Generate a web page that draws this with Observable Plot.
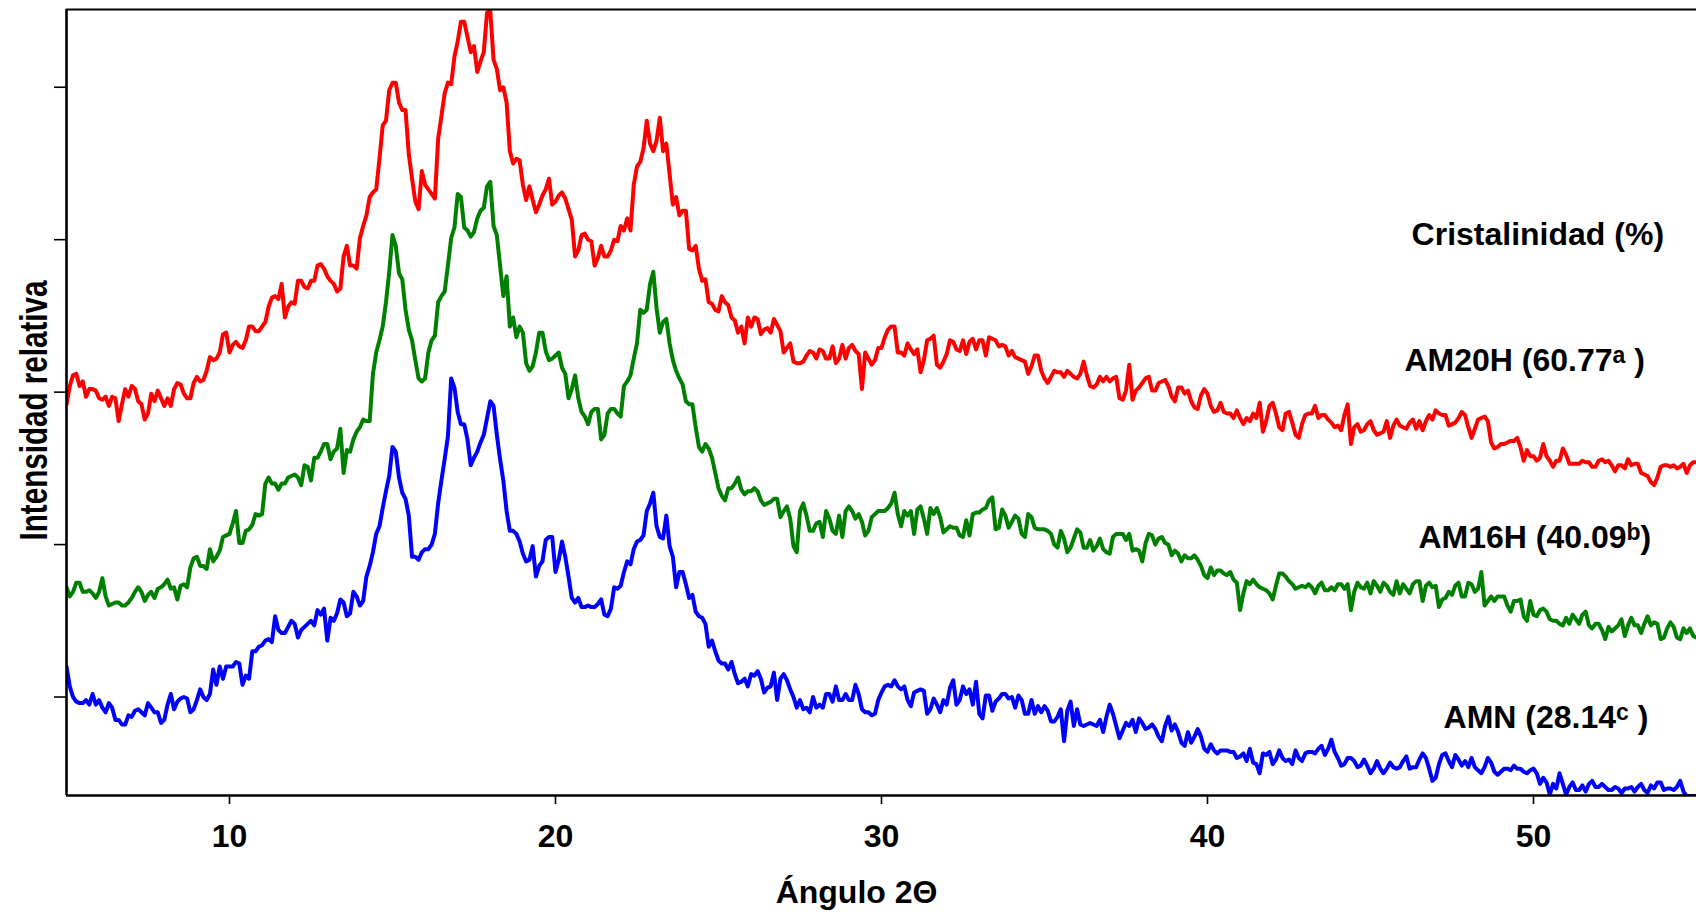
<!DOCTYPE html>
<html>
<head>
<meta charset="utf-8">
<script src="https://cdn.jsdelivr.net/npm/d3@7"></script>
<script src="https://cdn.jsdelivr.net/npm/@observablehq/plot@0.6"></script>
<style>
  html, body { margin: 0; padding: 0; background: #fff; }
  #chart svg { display: block; }
</style>
</head>
<body>
<div id="chart"></div>
<script>
// X-ray diffraction patterns, 2θ from 5° to 55° sampled every 0.1°.
// Intensities are in relative units (curves are offset vertically).
const angleStart = 5;
const angleStep = 0.1;

const am20h = [
  292,304,311,312,304,307,297,302,302,301,296,295,297,291,297,296,281,292,302,297,
  304,302,294,292,282,286,299,294,301,296,291,296,291,302,306,305,299,296,296,306,
  310,307,308,314,323,321,322,326,338,339,326,331,333,330,329,334,343,343,340,340,
  343,346,356,362,363,361,371,349,356,359,358,373,373,369,368,373,373,383,384,381,
  376,373,371,366,368,389,396,383,383,381,401,409,416,428,431,433,453,475,478,498,
  503,503,490,485,485,456,440,425,420,445,436,433,430,427,466,481,496,503,502,520,
  530,543,543,533,523,527,510,517,523,549,550,518,512,498,500,490,458,450,453,452,
  436,426,435,426,418,423,429,433,440,423,425,429,431,427,420,413,389,393,403,404,
  400,399,383,388,396,389,389,393,400,399,409,406,414,406,436,448,451,460,478,463,
  458,465,480,458,463,443,423,428,416,419,419,394,393,396,381,373,374,359,358,354,
  353,363,359,357,349,347,339,343,332,349,343,349,348,338,341,342,339,348,344,340,
  326,329,332,320,319,319,320,324,327,326,322,328,327,322,322,330,319,322,331,322,
  329,331,327,325,302,326,322,318,321,329,329,336,341,343,343,326,326,324,332,328,
  325,328,313,321,334,335,337,318,316,320,325,334,333,328,327,334,325,333,335,328,
  334,334,324,336,335,334,330,331,330,324,327,323,322,321,320,312,317,324,324,314,
  309,306,310,314,313,313,310,314,312,310,309,312,320,311,304,303,305,310,307,310,
  307,309,310,296,295,301,318,295,301,303,306,309,310,301,301,306,307,308,304,297,
  294,303,303,299,301,294,290,289,298,302,299,291,287,288,293,287,286,286,283,288,
  283,279,283,281,286,283,293,274,281,291,293,286,277,275,286,287,280,272,270,279,
  285,286,286,291,283,285,285,282,280,277,278,275,285,292,266,277,279,274,275,279,
  281,275,272,273,274,281,270,278,282,278,277,276,280,282,276,281,275,281,285,282,
  288,286,285,285,278,279,280,283,287,285,277,270,276,282,283,284,281,267,263,264,
  266,266,267,268,268,270,264,255,262,258,258,255,257,266,258,255,251,255,255,263,
  259,253,253,253,253,255,254,254,251,251,255,256,254,255,252,248,252,252,250,256,
  252,253,253,247,246,245,241,239,244,251,252,252,251,252,250,251,253,247,252,254,
  254
];

const am16h = [
  172,166,169,175,175,169,169,170,168,165,169,178,166,160,161,162,162,160,160,162,
  165,169,172,169,163,167,169,165,171,172,174,177,171,172,164,173,174,172,185,191,
  192,186,186,184,197,189,192,196,205,206,207,214,222,201,201,209,210,213,220,219,
  220,240,244,240,240,236,240,240,244,245,246,244,239,252,251,242,257,257,261,266,
  266,256,261,263,276,247,262,261,269,274,277,282,281,281,312,326,334,343,359,379,
  403,396,378,374,354,341,334,321,309,307,309,326,334,337,359,363,366,383,401,408,
  430,428,408,406,402,405,414,419,421,435,438,409,403,383,363,376,343,349,336,343,
  339,319,314,317,326,339,339,327,321,322,324,326,316,312,296,302,311,296,287,284,
  279,287,289,289,269,272,286,289,289,286,284,304,307,311,322,332,354,352,354,371,
  379,355,339,346,348,332,321,314,309,305,294,292,292,277,264,261,266,263,257,247,
  237,232,229,237,237,240,244,236,233,235,235,237,235,229,226,227,228,230,230,218,
  222,225,217,199,195,222,227,219,209,209,214,215,205,222,217,209,207,219,205,222,
  225,222,217,220,215,206,209,218,220,222,222,222,224,227,234,220,212,222,219,222,
  207,223,225,217,207,224,220,224,218,208,210,212,211,211,206,205,216,206,220,221,
  221,223,224,229,231,210,211,223,219,211,215,219,217,207,205,220,218,211,210,210,
  210,209,207,200,198,209,204,195,198,204,210,208,198,198,203,196,199,204,197,195,
  194,205,207,207,207,203,207,196,197,196,189,201,207,206,200,204,205,201,200,193,
  196,194,189,193,191,191,193,190,186,180,178,185,180,183,183,181,180,182,177,175,
  157,168,176,174,177,174,172,171,170,168,164,173,181,181,179,176,174,171,172,173,
  172,174,172,168,173,175,170,170,172,170,174,174,171,174,157,169,175,172,171,175,
  168,176,173,169,175,173,169,167,176,168,174,171,168,174,176,176,163,173,175,172,
  173,159,164,165,169,167,173,175,166,166,175,174,169,171,182,160,163,166,163,166,
  166,166,160,156,163,163,164,153,150,163,154,153,157,158,156,151,150,150,148,147,
  152,148,154,151,148,154,156,147,145,148,148,144,138,146,143,145,147,151,140,147,
  152,147,147,142,148,153,147,149,148,138,139,145,149,146,139,138,145,142,145,140,
  139
];

const amn = [
  120,107,100,97,96,96,98,95,102,95,98,93,90,96,93,85,85,82,82,88,
  87,91,92,90,88,96,93,90,90,83,85,95,102,92,97,99,100,99,90,92,
  98,105,100,98,102,118,108,120,112,120,120,120,123,122,108,114,112,130,130,133,
  134,137,138,136,153,144,142,142,146,150,148,139,144,146,148,150,147,157,154,158,
  137,152,150,155,164,162,153,155,169,166,160,163,179,186,195,207,212,224,235,245,
  264,261,244,234,230,219,192,192,190,195,197,197,200,207,227,242,256,271,309,303,
  287,279,279,269,252,257,261,267,272,283,294,291,272,256,242,222,209,209,207,202,
  194,189,190,199,179,186,189,203,205,205,182,190,202,192,179,165,162,165,159,159,
  160,159,159,161,164,154,153,158,172,171,173,182,189,187,197,202,203,206,222,227,
  234,212,205,204,219,199,192,172,182,182,174,165,167,156,153,152,148,133,137,130,
  124,122,122,118,123,115,109,110,112,107,115,114,117,112,103,106,107,116,98,112,
  115,111,105,100,93,98,92,93,90,100,93,95,93,102,102,97,107,98,98,102,
  98,98,108,102,92,90,90,88,89,98,103,107,108,107,111,107,105,107,98,94,
  103,104,105,104,89,92,99,95,90,98,95,106,111,95,98,107,102,105,95,110,
  89,86,101,101,91,97,99,102,102,99,100,93,101,98,89,89,98,89,94,90,
  94,91,84,84,87,92,71,91,97,81,92,82,81,82,83,82,81,85,77,87,
  95,89,81,73,78,83,81,85,77,86,83,79,80,82,79,74,71,81,87,78,
  82,77,70,68,77,70,74,79,74,66,64,69,65,63,65,65,65,64,64,60,
  61,63,58,66,57,56,50,63,62,64,56,59,65,60,58,59,56,65,60,58,
  63,64,64,63,66,68,62,66,72,64,60,55,56,60,60,58,54,55,59,55,
  50,53,58,53,50,53,57,54,53,54,58,61,53,54,54,59,63,60,53,45,
  47,56,62,63,58,54,62,59,55,58,54,60,54,52,50,54,60,57,51,49,
  51,53,53,52,55,53,53,51,50,52,53,50,43,47,44,36,43,40,50,43,
  36,41,44,39,39,42,38,43,45,41,41,43,41,39,39,41,40,37,40,40,
  41,38,41,43,39,37,42,40,44,44,39,40,40,39,41,45,38,35,35,35,
  35
];

// Crystallinity (%) per sample, with significance letters
const sampleNames = ["AM20H", "AM16H", "AMN"];
const crystallinity = ["60.77", "40.09", "28.14"];
const groupLetters = ["a", "b", "c"];
const labelClosers = [" )", ")", " )"];

const xTicks = [10, 20, 30, 40, 50];
const yTicks = [100, 200, 300, 400, 500];

const angles = am20h.map((_, i) => angleStart + i * angleStep);
const yMin = 35.4, yMax = 551;

const font = "'Liberation Sans', Arial, Helvetica, sans-serif";

function pattern(values, color) {
  return Plot.line(values, {
    x: (d, i) => angles[i],
    y: d => d,
    stroke: color,
    strokeWidth: 4,
    clip: true
  });
}

// anchor points (in data units) for the annotation block on the right
const labelAnchors = [
  {x: 46.04, y: 313.8},
  {x: 46.47, y: 197.7},
  {x: 47.24, y: 80}
];

const plot = Plot.plot({
  width: 1696,
  height: 916,
  marginLeft: 66,
  marginRight: 0,
  marginTop: 9,
  marginBottom: 121,
  x: {domain: [5, 55]},
  y: {domain: [yMin, yMax]},
  style: {
    fontFamily: font,
    fontSize: "32px",
    fontWeight: "bold",
    color: "#000",
    background: "#fff",
    overflow: "visible"
  },
  marks: [
    pattern(am20h, "#ff0000"),
    pattern(am16h, "#008000"),
    pattern(amn, "#0000ff"),

    // frame lines: left, bottom, top
    Plot.ruleX([5], {stroke: "#000", strokeWidth: 2.6}),
    Plot.ruleY([yMin], {stroke: "#000", strokeWidth: 2.6}),
    Plot.ruleY([yMax], {stroke: "#000", strokeWidth: 2}),

    Plot.axisX({
      ticks: xTicks,
      tickSize: 9,
      tickPadding: 20,
      strokeWidth: 1.6,
      label: null
    }),
    Plot.axisY({
      ticks: yTicks,
      tickSize: 12,
      strokeWidth: 1.6,
      tickFormat: () => "",
      label: null
    }),

    Plot.text(["Ángulo 2Θ"], {
      frameAnchor: "bottom",
      dx: -25,
      dy: 107,
      lineAnchor: "bottom",
      fontSize: 32
    }),
    Plot.text(["Intensidad relativa"], {
      frameAnchor: "left",
      textAnchor: "middle",
      rotate: -90,
      dx: -20,
      dy: 8,
      lineAnchor: "bottom",
      fontSize: 38
    }),

    Plot.text(["Cristalinidad (%)"], {
      x: 46.26,
      y: 396.7,
      textAnchor: "start",
      lineAnchor: "bottom",
      fontSize: 32
    }),
    Plot.text(sampleNames, {
      x: (d, i) => labelAnchors[i].x,
      y: (d, i) => labelAnchors[i].y,
      text: (d, i) => `${d} (${crystallinity[i]}${groupLetters[i]}${labelClosers[i]}`,
      textAnchor: "start",
      lineAnchor: "bottom",
      fontSize: 32
    })
  ]
});

const svg = d3.select(plot);

// superscript significance letters in the sample labels
svg.selectAll("text").each(function () {
  const t = d3.select(this);
  const content = t.text();
  const i = sampleNames.findIndex(n => content.startsWith(n + " ("));
  if (i < 0) return;
  t.text(null);
  t.append("tspan").text(`${sampleNames[i]} (${crystallinity[i]}`);
  t.append("tspan").attr("font-size", "0.72em").attr("dy", "-8").text(groupLetters[i]);
  t.append("tspan").attr("dy", "8").text(labelClosers[i]);
});

// narrow setting for the vertical title
svg.selectAll("text")
  .filter(function () { return d3.select(this).text() === "Intensidad relativa"; })
  .attr("textLength", 260)
  .attr("lengthAdjust", "spacingAndGlyphs");

document.getElementById("chart").appendChild(plot);
</script>
</body>
</html>
